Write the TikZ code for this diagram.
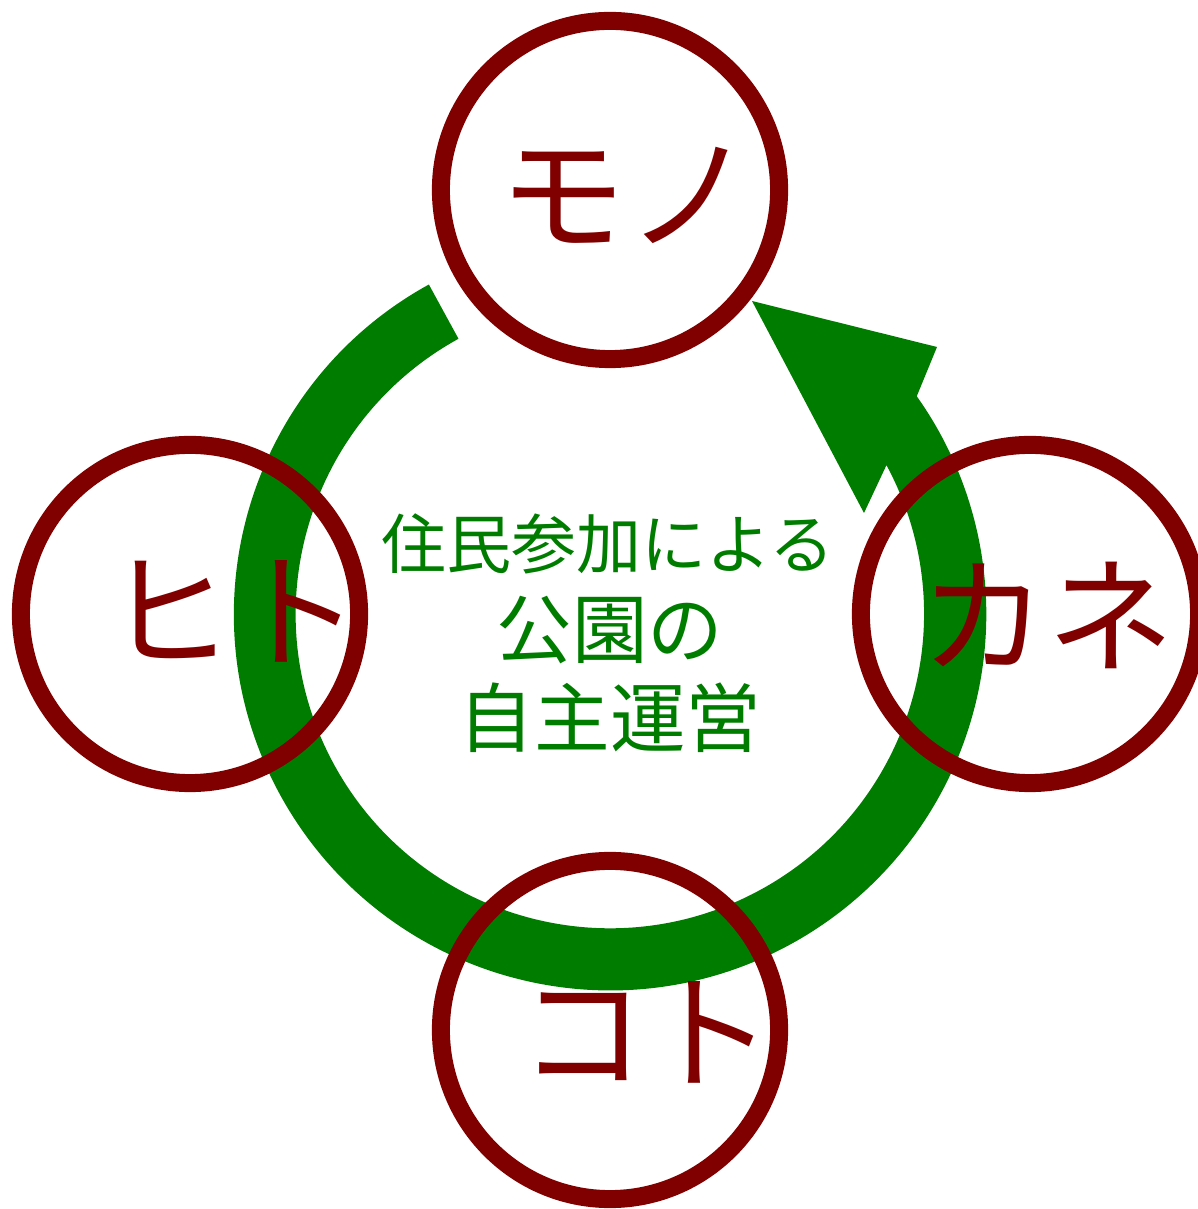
\documentclass[tikz,border=0pt]{standalone}
\usepackage{fontspec}
\setmainfont{Noto Sans CJK JP}
\usetikzlibrary{calc}
\definecolor{ringred}{RGB}{128,0,0}
\definecolor{cyclegreen}{RGB}{0,125,0}
\begin{document}
\begin{tikzpicture}[x=0.01cm,y=0.01cm,
  ring/.style={circle,draw=ringred,line width=0.18cm,minimum size=3.38cm,inner sep=0pt},
  bigword/.style={text=ringred,font=\fontsize{36pt}{36pt}\selectfont,inner sep=0pt},
  midword/.style={text=cyclegreen,inner sep=0pt}]
\useasboundingbox (0,0) rectangle (1198,1209);
\coordinate (C) at (610,595);
% cycle arrow
\fill[cyclegreen] ($(C)+(118.8:376)$) arc[start angle=118.8,end angle=395.4,radius=3.76cm]
  -- ($(C)+(327,267)$) -- ($(C)+(142,313)$) -- ($(C)+(254,101)$)
  -- ($(C)+(388.3:314)$) arc[start angle=388.3,end angle=118.8,radius=3.14cm] -- cycle;
% rings
\node[ring] (mono) at (610,1019) {};
\node[ring] (hito) at (190,595) {};
\node[ring] (kane) at (1030,595) {};
\node[ring] (koto) at (610,179) {};
% ring words
\node[bigword] (monot) at (626,1014) {モノ};
\node[bigword] (hitot) at (233,598) {ヒト};
\node[bigword] (kanet) at (1047,594) {カネ};
\node[bigword] (kotot) at (646,177) {コト};
% centre text
\node[midword,font=\fontsize{18.5pt}{18.5pt}\selectfont] (l1) at (608,665) {住民参加による};
\node[midword,font=\fontsize{21.5pt}{21.5pt}\selectfont] (l2) at (610,579) {公園の};
\node[midword,font=\fontsize{21.5pt}{21.5pt}\selectfont] (l3) at (610,491) {自主運営};
\end{tikzpicture}
\end{document}
